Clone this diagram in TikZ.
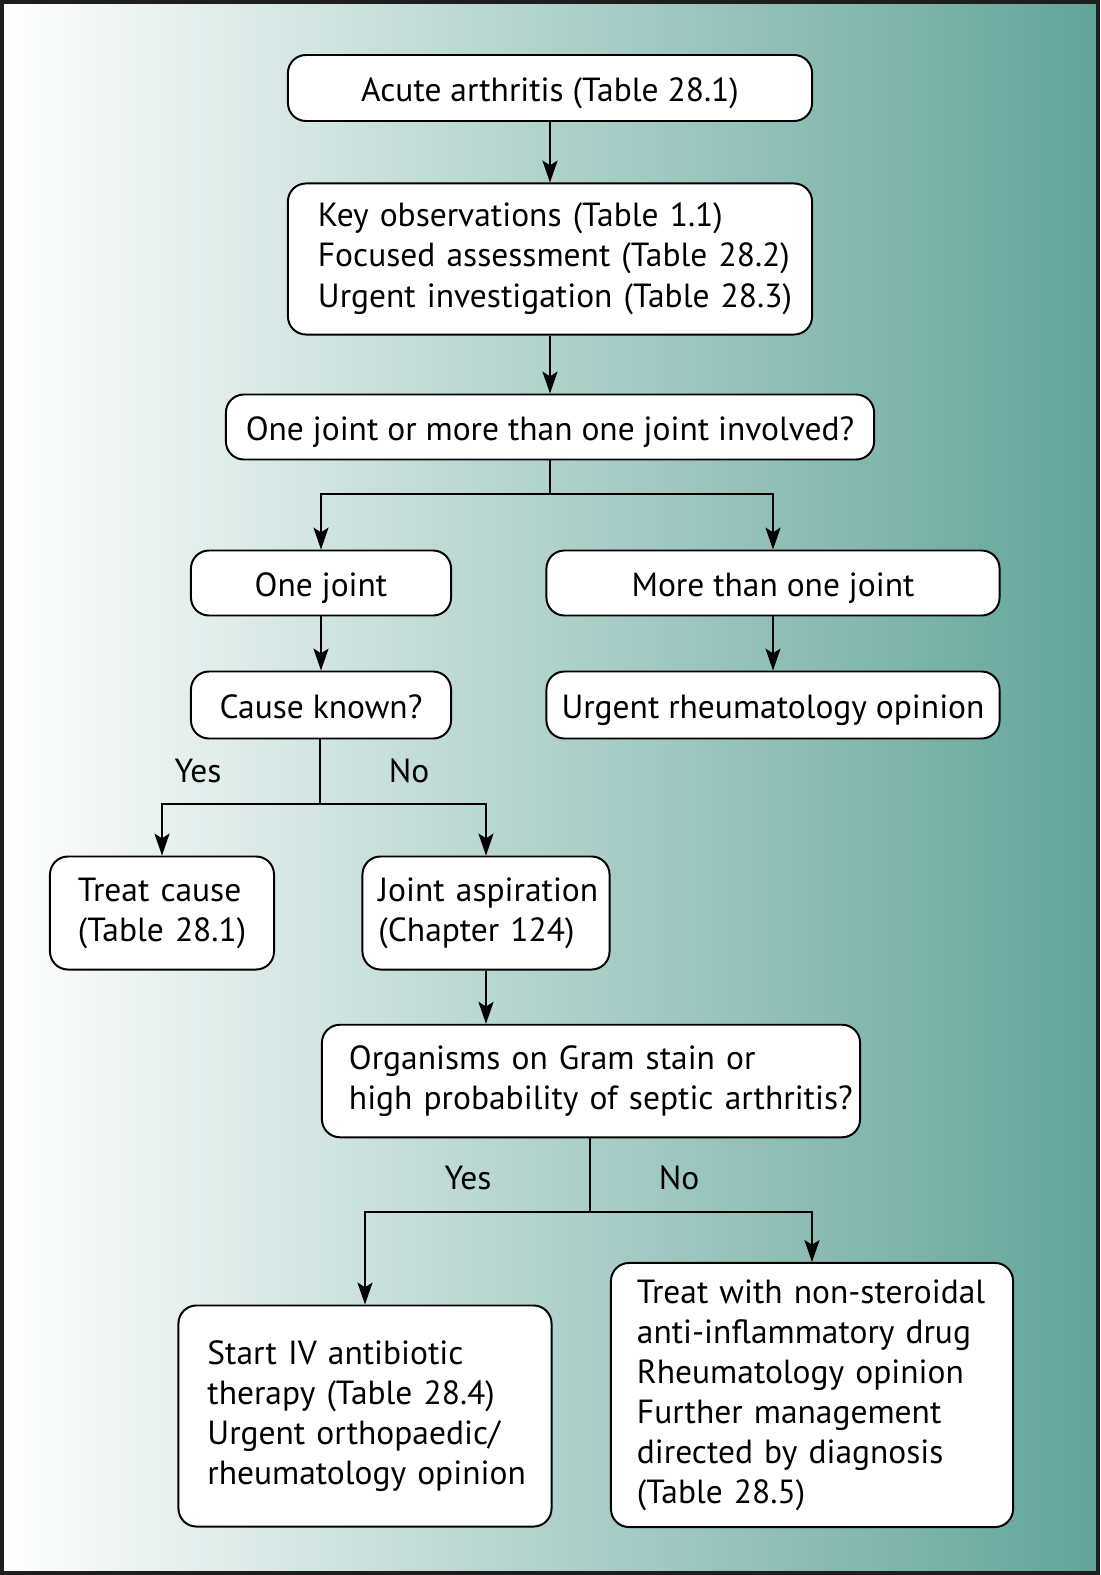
\documentclass[tikz,border=0pt]{standalone}
\usepackage{fontspec}
\setmainfont{PT Sans}
\usetikzlibrary{arrows.meta}
\definecolor{bgteal}{RGB}{98,164,154}
\definecolor{bgmid}{RGB}{180,209,204}
\definecolor{frame}{RGB}{30,30,30}
% lines set flush left, never broken
\newcommand{\boxlines}[1]{\begin{tabular}{@{}l@{}}#1\end{tabular}}
\begin{document}
\begin{tikzpicture}[x=0.025cm, y=-0.025cm,
    box/.style={draw, fill=white, rounded corners=0.45cm, line width=1.4pt, inner sep=0pt,
                font=\fontsize{23.8pt}{28.45pt}\selectfont},
    sbox/.style={box, text height=24pt, text depth=5pt},
    lbox/.style={box, align=left, inner ysep=0pt},
    lbl/.style={font=\fontsize{23.8pt}{28.45pt}\selectfont, inner sep=0pt},
    arr/.style={line width=1pt, -{Stealth[length=0.55cm, width=0.38cm, inset=0.12cm]}},
    conn/.style={line width=1pt}]
    \useasboundingbox (0,0) rectangle (1100,1575);

    % Background and frame
    \shade[left color=white, middle color=bgmid, right color=bgteal] (0,0) rectangle (1100,1575);
    \draw[frame, line width=2.6pt] (2,2) rectangle (1098,1573);

    % Top of the chart
    \node[sbox, minimum width=13.1cm, minimum height=1.65cm] (acute) at (550,88) {Acute arthritis (Table 28.1)};
    \node[lbox, text width=11.6cm, inner xsep=0.75cm, minimum height=3.775cm] (keyobs) at (550,259)
        {\boxlines{Key observations (Table 1.1)\\ Focused assessment (Table 28.2)\\ Urgent investigation (Table 28.3)}};
    \node[sbox, minimum width=16.2cm, minimum height=1.625cm] (howmany) at (550,427) {One joint or more than one joint involved?};

    % One joint / more than one joint
    \node[sbox, minimum width=6.5cm, minimum height=1.625cm] (onejoint) at (321,583) {One joint};
    \node[sbox, minimum width=11.325cm, minimum height=1.625cm] (morejoint) at (773,583) {More than one joint};
    \node[sbox, minimum width=6.5cm, minimum height=1.675cm] (cause) at (321,705) {Cause known?};
    \node[sbox, minimum width=11.325cm, minimum height=1.675cm] (rheum) at (773,705) {Urgent rheumatology opinion};

    % Cause known or not
    \node[lbox, text width=4.2cm, inner xsep=0.7cm, minimum height=2.825cm] (treatcause) at (162,913)
        {\boxlines{Treat cause\\ (Table 28.1)}};
    \node[lbox, text width=5.375cm, inner xsep=0.4cm, minimum height=2.825cm] (aspirate) at (486,913)
        {\boxlines{Joint aspiration\\ (Chapter 124)}};
    \node[lbox, text width=12.1cm, inner xsep=0.675cm, minimum height=2.8125cm] (gram) at (591,1081)
        {\boxlines{Organisms on Gram stain or\\ high probability of septic arthritis?}};

    % Septic or not
    \node[lbox, text width=7.875cm, inner xsep=0.725cm, minimum height=5.525cm] (antibiotic) at (365,1416)
        {\boxlines{Start IV antibiotic\\ therapy (Table 28.4)\\ Urgent orthopaedic/\\ rheumatology opinion}};
    \node[lbox, text width=8.75cm, inner xsep=0.65cm, minimum height=6.6cm] (nsaid) at (812,1395)
        {\boxlines{Treat with non-steroidal\\ anti-inflammatory drug\\ Rheumatology opinion\\ Further management\\ directed by diagnosis\\ (Table 28.5)}};

    % Branch points
    \coordinate (split1) at (550,494);
    \coordinate (split2) at (320,804);
    \coordinate (split3) at (590,1212);

    % Connectors
    \draw[arr] (acute) -- (keyobs);
    \draw[arr] (keyobs) -- (howmany);
    \draw[conn] (howmany.south) -- (split1);
    \draw[arr] (split1) -| (onejoint.north);
    \draw[arr] (split1) -| (morejoint.north);
    \draw[arr] (onejoint) -- (cause);
    \draw[arr] (morejoint) -- (rheum);
    \draw[conn] (cause.south -| split2) -- (split2);
    \draw[arr] (split2) -| (treatcause.north);
    \draw[arr] (split2) -| (aspirate.north);
    \draw[arr] (aspirate) -- (aspirate |- gram.north);
    \draw[conn] (gram.south -| split3) -- (split3);
    \draw[arr] (split3) -| (antibiotic.north);
    \draw[arr] (split3) -| (nsaid.north);

    % Yes / No labels
    \node[lbl] (yes1) at (198,771) {Yes};
    \node[lbl] (no1) at (409,771) {No};
    \node[lbl] (yes2) at (468,1178) {Yes};
    \node[lbl] (no2) at (679,1178) {No};
\end{tikzpicture}
\end{document}
